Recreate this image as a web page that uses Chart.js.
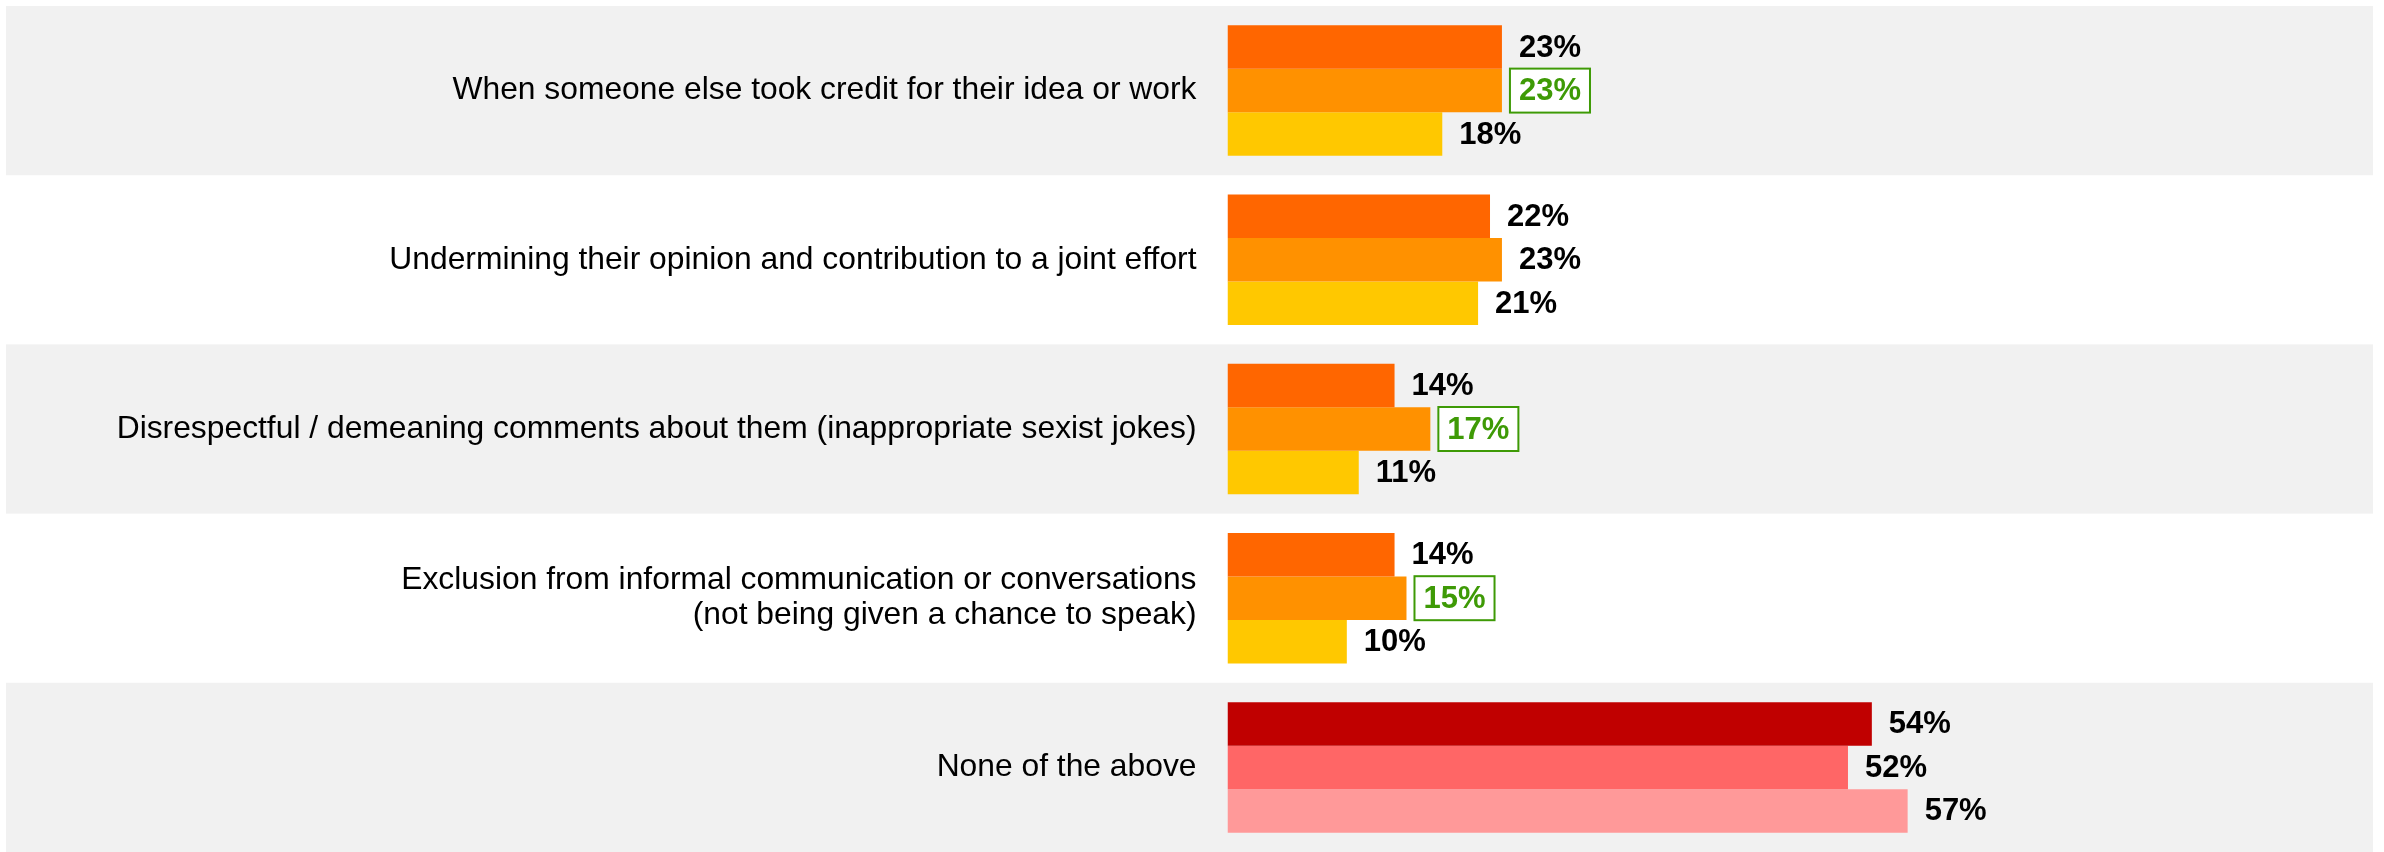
<!DOCTYPE html>
<html>
<head>
<meta charset="utf-8">
<script src="https://cdn.jsdelivr.net/npm/chart.js@4.4.1/dist/chart.umd.min.js"></script>
<style>
  html, body { margin: 0; padding: 0; background: #ffffff; overflow: hidden; }
  #wrap { width: 2384px; height: 852px; position: relative; }
</style>
</head>
<body>
<div id="wrap"><canvas id="chart"></canvas></div>
<script>
// Categories (multi-line labels are arrays)
const categories = [
  'When someone else took credit for their idea or work',
  'Undermining their opinion and contribution to a joint effort',
  'Disrespectful / demeaning comments about them (inappropriate sexist jokes)',
  ['Exclusion from informal communication or conversations', '(not being given a chance to speak)'],
  'None of the above'
];

// Percentages for the three series, top to bottom within each group
const seriesA = [23, 22, 14, 14, 54];
const seriesB = [23, 23, 17, 15, 52];
const seriesC = [18, 21, 11, 10, 57];

// Which values of each series get the green outlined label
const highlightA = [false, false, false, false, false];
const highlightB = [true, false, true, true, false];
const highlightC = [false, false, false, false, false];

// Colours per series: four orange groups, last group in reds
const coloursA = ['#FF6600', '#FF6600', '#FF6600', '#FF6600', '#C00000'];
const coloursB = ['#FF9100', '#FF9100', '#FF9100', '#FF9100', '#FF6666'];
const coloursC = ['#FFC800', '#FFC800', '#FFC800', '#FFC800', '#FF9999'];

const BAND = '#F1F1F1';
const GREEN = '#3E9A06';
const LABEL_FONT = 'bold 31px "Liberation Sans", Arial, sans-serif';

// Alternating grey/white row bands behind every category
const bandsPlugin = {
  id: 'bands',
  beforeDraw(chart) {
    const { ctx, scales } = chart;
    const y = scales.y;
    const x = scales.x;
    const n = chart.data.labels.length;
    const step = (y.bottom - y.top) / n;
    ctx.save();
    ctx.fillStyle = BAND;
    for (let i = 0; i < n; i += 2) {
      const top = y.top + i * step;
      ctx.fillRect(y.left, top, x.right - y.left, step);
    }
    ctx.restore();
  }
};

// Value labels to the right of every bar, some inside a green box
const valueLabelsPlugin = {
  id: 'valueLabels',
  afterDatasetsDraw(chart) {
    const { ctx } = chart;
    ctx.save();
    ctx.font = LABEL_FONT;
    ctx.textBaseline = 'middle';
    ctx.textAlign = 'left';
    chart.data.datasets.forEach((ds, di) => {
      const meta = chart.getDatasetMeta(di);
      meta.data.forEach((bar, i) => {
        const text = ds.data[i] + '%';
        const tx = bar.x + 17;
        const ty = bar.y + 1;
        if (ds.highlight[i]) {
          const w = ctx.measureText(text).width;
          const bx = bar.x + 7;
          const bh = 46;
          ctx.fillStyle = '#ffffff';
          ctx.fillRect(bx, bar.y - bh / 2, w + 20, bh);
          ctx.strokeStyle = GREEN;
          ctx.lineWidth = 2;
          ctx.strokeRect(bx + 1, bar.y - bh / 2 + 1, w + 18, bh - 2);
          ctx.fillStyle = GREEN;
        } else {
          ctx.fillStyle = '#000000';
        }
        ctx.fillText(text, tx, ty);
      });
    });
    ctx.restore();
  }
};

new Chart(document.getElementById('chart'), {
  type: 'bar',
  data: {
    labels: categories,
    datasets: [
      { label: 'Series A', data: seriesA, backgroundColor: coloursA, highlight: highlightA },
      { label: 'Series B', data: seriesB, backgroundColor: coloursB, highlight: highlightB },
      { label: 'Series C', data: seriesC, backgroundColor: coloursC, highlight: highlightC }
    ]
  },
  options: {
    indexAxis: 'y',
    responsive: true,
    maintainAspectRatio: false,
    animation: false,
    devicePixelRatio: 1,
    layout: { padding: { left: 6, right: 11, top: 6, bottom: 0 } },
    datasets: {
      bar: { categoryPercentage: 0.771, barPercentage: 1.0, borderWidth: 0 }
    },
    plugins: {
      legend: { display: false },
      tooltip: { enabled: false }
    },
    scales: {
      x: {
        display: false,
        min: 0,
        max: 96
      },
      y: {
        grid: { display: false, drawTicks: false },
        border: { display: false },
        afterFit(scale) {
          // fixed label column; no extra vertical padding from tick labels
          scale.width = 1221.5;
          scale.paddingTop = 0;
          scale.paddingBottom = 0;
        },
        ticks: {
          padding: 31,
          color: '#000000',
          font: { family: '"Liberation Sans", Arial, sans-serif', size: 31.8, lineHeight: 1.1 }
        }
      }
    }
  },
  plugins: [bandsPlugin, valueLabelsPlugin]
});
</script>
</body>
</html>
